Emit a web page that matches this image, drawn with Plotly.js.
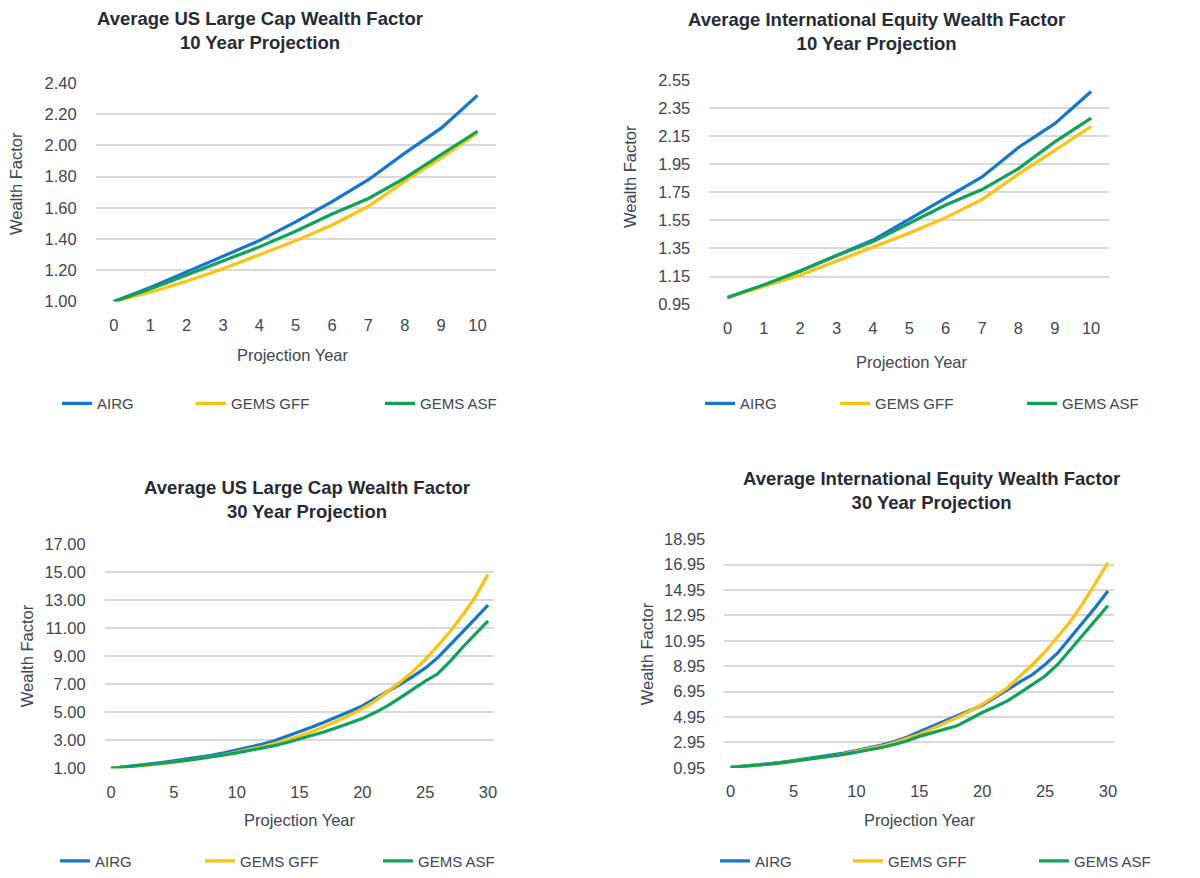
<!DOCTYPE html>
<html>
<head>
<meta charset="utf-8">
<script src="https://cdn.plot.ly/plotly-3.0.1.min.js"></script>
<style>html,body{margin:0;padding:0;background:#fff;}#chart{width:1200px;height:878px;}</style>
</head>
<body>
<div id="chart"></div>
<script>
// ---- data ----
const years10 = [0,1,2,3,4,5,6,7,8,9,10];
const years30 = [0,1,2,3,4,5,6,7,8,9,10,11,12,13,14,15,16,17,18,19,20,21,22,23,24,25,26,27,28,29,30];
const seriesNames = ["AIRG", "GEMS GFF", "GEMS ASF"];

const usAirg10 = [1.00,1.09,1.19,1.29,1.39,1.51,1.64,1.78,1.95,2.11,2.32];
const usGff10  = [1.00,1.06,1.13,1.21,1.30,1.39,1.49,1.61,1.77,1.92,2.08];
const usAsf10  = [1.00,1.08,1.17,1.26,1.35,1.45,1.56,1.66,1.79,1.94,2.09];

const intlAirg10 = [1.00,1.09,1.19,1.30,1.41,1.56,1.71,1.86,2.07,2.24,2.47];
const intlGff10  = [1.00,1.08,1.16,1.26,1.36,1.46,1.57,1.70,1.88,2.05,2.22];
const intlAsf10  = [1.00,1.09,1.19,1.30,1.40,1.53,1.66,1.77,1.92,2.11,2.28];

const usAirg30 = [1.00,1.09,1.18,1.28,1.40,1.53,1.65,1.78,1.93,2.10,2.30,2.50,2.72,2.97,3.28,3.62,3.95,4.30,4.65,5.05,5.45,5.95,6.45,7.00,7.55,8.15,8.90,9.80,10.75,11.70,12.65];
const usGff30  = [1.00,1.07,1.14,1.22,1.32,1.43,1.55,1.67,1.81,1.97,2.15,2.33,2.54,2.76,3.02,3.30,3.62,3.98,4.38,4.80,5.26,5.80,6.45,7.15,7.90,8.76,9.75,10.78,11.96,13.26,14.85];
const usAsf30  = [1.00,1.08,1.16,1.25,1.35,1.45,1.56,1.68,1.81,1.95,2.10,2.26,2.43,2.62,2.84,3.08,3.34,3.61,3.91,4.22,4.55,4.98,5.45,6.03,6.63,7.22,7.75,8.65,9.66,10.60,11.53];

const intlAirg30 = [1.00,1.08,1.17,1.27,1.38,1.52,1.66,1.80,1.95,2.12,2.31,2.52,2.75,3.02,3.36,3.79,4.20,4.62,5.05,5.45,5.88,6.48,7.13,7.72,8.30,9.09,10.00,11.20,12.35,13.60,14.88];
const intlGff30  = [1.00,1.07,1.15,1.24,1.35,1.47,1.59,1.72,1.87,2.04,2.23,2.43,2.66,2.93,3.24,3.60,4.02,4.45,4.92,5.42,5.96,6.58,7.26,8.18,9.09,10.10,11.30,12.48,13.90,15.50,17.10];
const intlAsf30  = [1.00,1.07,1.15,1.24,1.35,1.47,1.59,1.71,1.85,2.01,2.18,2.36,2.56,2.79,3.07,3.43,3.70,3.98,4.26,4.78,5.31,5.75,6.22,6.85,7.52,8.18,9.09,10.26,11.44,12.60,13.73];

const yTicksUS10 = [1.00,1.20,1.40,1.60,1.80,2.00,2.20,2.40];
const yTicksIntl10 = [0.95,1.15,1.35,1.55,1.75,1.95,2.15,2.35,2.55];
const yTicksUS30 = [1,3,5,7,9,11,13,15,17];
const yTicksIntl30 = [0.95,2.95,4.95,6.95,8.95,10.95,12.95,14.95,16.95,18.95];

const titles = [
  "Average US Large Cap Wealth Factor<br>10 Year Projection",
  "Average International Equity Wealth Factor<br>10 Year Projection",
  "Average US Large Cap Wealth Factor<br>30 Year Projection",
  "Average International Equity Wealth Factor<br>30 Year Projection"
];
const xTitle = "Projection Year";
const yTitle = "Wealth Factor";

// ---- styling ----
const colors = ["#1377D0", "#FFC30F", "#0FA35A"];
const W = 1200, H = 878;
const FONT = "Liberation Sans, Arial, sans-serif";
const tickColor = "#404652";
const titleColor = "#262B36";

// panels: pixel boxes; legT = x where each legend label text starts
const panels = [
  {x0:95.7, x1:495.7, y0:83.3, y1:303.3, range:[1.0,2.4], ticks:yTicksUS10, xs:years10, dtick:1, xr:[-0.5,10.5],
   data:[usAirg10,usGff10,usAsf10], title:{x:260,y:31}, yt:{x:16,y:185}, xt:{x:293,y:357}, legT:[97,231,420], legY:406},
  {x0:709.3, x1:1109.3, y0:80.7, y1:306.3, range:[0.95,2.55], ticks:yTicksIntl10, xs:years10, dtick:1, xr:[-0.5,10.5],
   data:[intlAirg10,intlGff10,intlAsf10], title:{x:876,y:32}, yt:{x:630,y:178}, xt:{x:912,y:364}, legT:[740,875,1062], legY:406},
  {x0:104.7, x1:494.3, y0:547.3, y1:772.7, range:[1,17], ticks:yTicksUS30, xs:years30, dtick:5, xr:[-0.5,30.5],
   data:[usAirg30,usGff30,usAsf30], title:{x:307,y:502}, yt:{x:27,y:660}, xt:{x:300,y:825}, legT:[95,240,418], legY:866},
  {x0:724.3, x1:1114.3, y0:542.3, y1:772.3, range:[0.95,18.95], ticks:yTicksIntl30, xs:years30, dtick:5, xr:[-0.5,30.5],
   data:[intlAirg30,intlGff30,intlAsf30], title:{x:932,y:493}, yt:{x:647,y:658}, xt:{x:920,y:825}, legT:[755,888,1074], legY:866}
];

const traces = [];
const layout = {
  width: W, height: H,
  margin: {l:0, r:0, t:0, b:0},
  paper_bgcolor: "#fff", plot_bgcolor: "#fff",
  font: {family: FONT, color: tickColor, size: 16},
  annotations: [],
  showlegend: true
};

let legCount = 0;
panels.forEach((p, i) => {
  const n = i + 1;
  const xa = n === 1 ? "x" : "x" + n;
  const ya = n === 1 ? "y" : "y" + n;
  const xKey = n === 1 ? "xaxis" : "xaxis" + n;
  const yKey = n === 1 ? "yaxis" : "yaxis" + n;
  p.data.forEach((vals, k) => {
    legCount += 1;
    const legKey = legCount === 1 ? "legend" : "legend" + legCount;
    traces.push({
      type: "scatter", mode: "lines",
      x: p.xs, y: vals, name: seriesNames[k],
      xaxis: xa, yaxis: ya, legend: legKey,
      line: {color: colors[k], width: 3.2},
      hoverinfo: "x+y+name"
    });
    layout[legKey] = {
      orientation: "h", x: (p.legT[k] - 40) / W, y: 1 - p.legY / H,
      xanchor: "left", yanchor: "middle",
      font: {family: FONT, size: 15, color: tickColor},
      bgcolor: "rgba(0,0,0,0)", itemwidth: 30, borderwidth: 0
    };
  });
  layout[xKey] = {
    domain: [p.x0 / W, p.x1 / W], anchor: ya,
    range: p.xr, tickmode: "linear", tick0: 0, dtick: p.dtick,
    showgrid: false, zeroline: false, showline: false, ticks: "",
    ticklabelstandoff: 12,
    tickfont: {family: FONT, size: 16.5, color: tickColor}, fixedrange: true
  };
  layout[yKey] = {
    domain: [1 - p.y1 / H, 1 - p.y0 / H], anchor: xa,
    range: p.range, tickmode: "array", tickvals: p.ticks,
    ticktext: p.ticks.map(v => v.toFixed(2)),
    showgrid: true, gridcolor: "#D9D9D9", gridwidth: 2,
    zeroline: false, showline: false, ticks: "",
    ticklabelstandoff: 18,
    tickfont: {family: FONT, size: 16.5, color: tickColor}, fixedrange: true
  };
  layout.annotations.push({
    xref: "paper", yref: "paper", x: p.title.x / W, y: 1 - p.title.y / H,
    xanchor: "center", yanchor: "middle", showarrow: false,
    text: "<b>" + titles[i].replace("<br>", "</b><br><b>") + "</b>",
    font: {family: FONT, size: 18.5, color: titleColor}
  });
  layout.annotations.push({
    xref: "paper", yref: "paper", x: p.yt.x / W, y: 1 - p.yt.y / H,
    xanchor: "center", yanchor: "middle", showarrow: false, textangle: -90,
    text: yTitle, font: {family: FONT, size: 16.5, color: tickColor}
  });
  layout.annotations.push({
    xref: "paper", yref: "paper", x: p.xt.x / W, y: 1 - p.xt.y / H,
    xanchor: "center", yanchor: "middle", showarrow: false,
    text: xTitle, font: {family: FONT, size: 16.5, color: tickColor}
  });
});

Plotly.newPlot("chart", traces, layout, {staticPlot: true, displayModeBar: false});
</script>
</body>
</html>
